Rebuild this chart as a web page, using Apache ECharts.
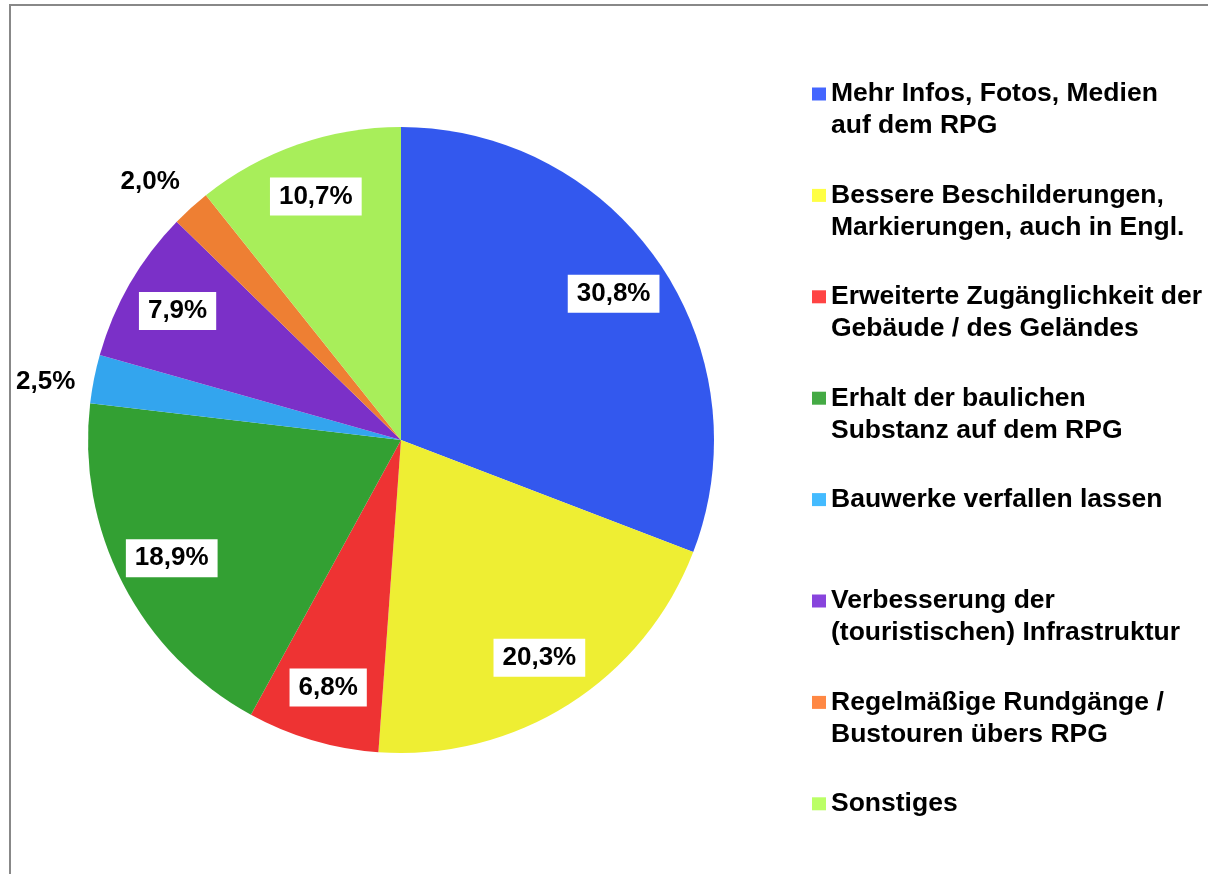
<!DOCTYPE html>
<html>
<head>
<meta charset="utf-8">
<script src="https://cdn.jsdelivr.net/npm/echarts@6/dist/echarts.min.js"></script>
<style>
  html, body { margin: 0; padding: 0; background: #fff; }
  #main { width: 1208px; height: 874px; }
</style>
</head>
<body>
<div id="main"></div>
<script>
// Kategorien (Legendentext, Zeilenumbruch wie im Original)
const categories = [
  "Mehr Infos, Fotos, Medien\nauf dem RPG",
  "Bessere Beschilderungen,\nMarkierungen, auch in Engl.",
  "Erweiterte Zugänglichkeit der\nGebäude / des Geländes",
  "Erhalt der baulichen\nSubstanz auf dem RPG",
  "Bauwerke verfallen lassen",
  "Verbesserung der\n(touristischen) Infrastruktur",
  "Regelmäßige Rundgänge /\nBustouren übers RPG",
  "Sonstiges"
];
// Anteile in %
const values = [30.8, 20.3, 6.8, 18.9, 2.5, 7.9, 2.0, 10.7];
// Farben der Segmente und der Legendenkästchen
const sliceColors = ["#3358ee", "#eeee33", "#ee3333", "#33a033", "#33a5ee", "#7b30c8", "#ee7f33", "#a8ee5a"];
const legendColors = ["#4466ff", "#ffff44", "#ff4444", "#44aa44", "#44bbff", "#8844dd", "#ff8844", "#bbff66"];

const FONT = "'Liberation Sans', Arial, sans-serif";
const fmt = (v) => v.toFixed(1).replace(".", ",") + "%";

var chartDom = document.getElementById("main");
var myChart = echarts.init(chartDom);

const sliceData = categories.map((name, i) => ({
  name: name,
  value: values[i],
  itemStyle: { color: sliceColors[i] }
}));

// kleine Segmente bekommen das Etikett außerhalb ohne Kasten
const isSmall = (v) => v < 5;

const innerLabels = categories.map((name, i) => ({
  name: name,
  value: values[i],
  label: { show: !isSmall(values[i]) }
}));
const outerLabels = categories.map((name, i) => ({
  name: name,
  value: values[i],
  label: { show: isSmall(values[i]) }
}));

const labelText = {
  fontFamily: FONT,
  fontSize: 26,
  fontWeight: "bold",
  color: "#000"
};

var option = {
  animation: false,
  graphic: [
    {
      type: "rect",
      shape: { x: 10, y: 5, width: 1400, height: 1000 },
      style: { fill: "none", stroke: "#888", lineWidth: 2 },
      silent: true
    }
  ],
  legend: {
    orient: "vertical",
    left: 812,
    top: 78,
    padding: 0,
    itemWidth: 14,
    itemHeight: 45,
    itemGap: 37.4,
    // Kästchen oben, damit es auf Höhe der ersten Textzeile sitzt
    icon: "path://M0,0h14v13h-14zM0,45",
    selectedMode: false,
    // jede Legende zweizeilig, damit alle Einträge gleich hoch sind
    formatter: (name) => (name.indexOf("\n") >= 0 ? name : name + "\n "),
    textStyle: {
      fontFamily: FONT,
      fontSize: 26.5,
      fontWeight: "bold",
      lineHeight: 32,
      color: "#000"
    },
    data: categories.map((name, i) => ({
      name: name,
      itemStyle: { color: legendColors[i] }
    }))
  },
  series: [
    {
      type: "pie",
      center: [401, 440],
      radius: [0, 313],
      startAngle: 90,
      clockwise: true,
      silent: true,
      label: { show: false },
      labelLine: { show: false },
      data: sliceData
    },
    {
      // Etiketten mit weißem Kasten innerhalb der Segmente
      type: "pie",
      center: [401, 440],
      radius: [197, 313],
      startAngle: 90,
      clockwise: true,
      silent: true,
      itemStyle: { color: "rgba(0,0,0,0)" },
      label: Object.assign({
        position: "inside",
        formatter: (p) => fmt(p.value),
        backgroundColor: "#fff",
        padding: [4, 9],
        lineHeight: 30
      }, labelText),
      labelLine: { show: false },
      data: innerLabels
    },
    {
      // Etiketten außerhalb für die schmalen Segmente (leicht versetzt wie im Original)
      type: "pie",
      center: [401, 440],
      radius: [313, 401],
      startAngle: 92,
      clockwise: true,
      silent: true,
      itemStyle: { color: "rgba(0,0,0,0)" },
      label: Object.assign({
        position: "inside",
        formatter: (p) => fmt(p.value)
      }, labelText),
      labelLine: { show: false },
      data: outerLabels
    }
  ]
};

option && myChart.setOption(option);
</script>
</body>
</html>
